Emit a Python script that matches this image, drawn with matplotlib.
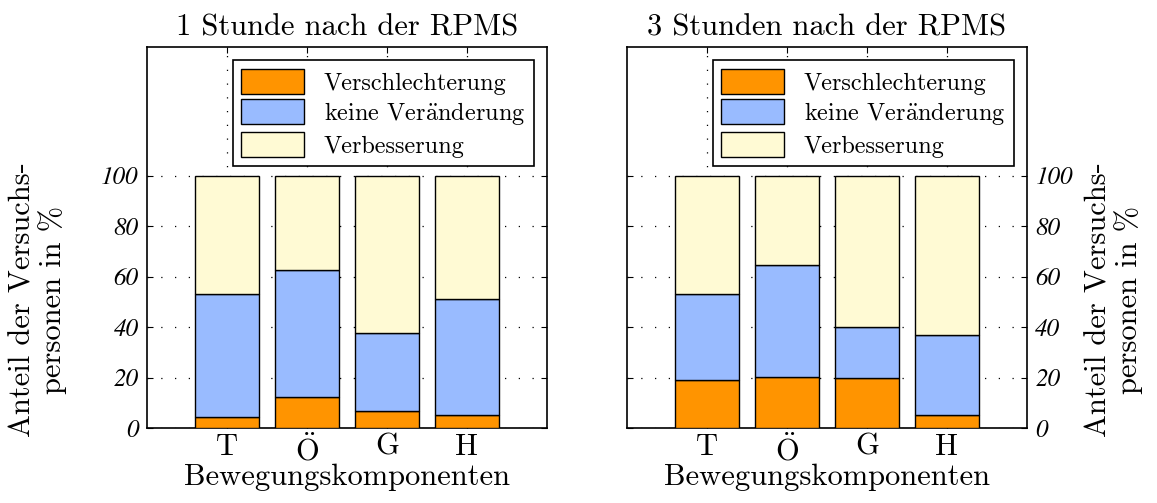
import matplotlib
matplotlib.use("Agg")
import matplotlib.pyplot as plt
import numpy as np

plt.rcParams['font.family'] = ['cmr10', 'DejaVu Serif']
plt.rcParams['mathtext.fontset'] = 'cm'
plt.rcParams['axes.formatter.use_mathtext'] = True
plt.rcParams['axes.unicode_minus'] = False

kategorien = ['T', r'$\ddot{\mathrm{O}}$', 'G', 'H']
titel = ['1 Stunde nach der RPMS', '3 Stunden nach der RPMS']
# Anteile in % (Verschlechterung, keine Veraenderung, Verbesserung)
schlechter_1h = [4.4, 12.3, 6.7, 5.2]
gleich_1h = [48.8, 50.4, 31.0, 46.0]
besser_1h = [46.8, 37.3, 62.3, 48.8]
schlechter_3h = [19.0, 20.2, 19.8, 5.2]
gleich_3h = [34.2, 44.5, 20.3, 31.7]
besser_3h = [46.8, 35.3, 59.9, 63.1]

farben = ['#ff9400', '#99bbff', '#fffad4']
legende = ['Verschlechterung', r'keine Ver$\ddot{\mathrm{a}}$nderung', 'Verbesserung']
yticks = [0, 20, 40, 60, 80, 100]
ylabel = 'Anteil der Versuchs-\npersonen in %'

fig = plt.figure(figsize=(11.57, 5.03), dpi=100)
ax1 = fig.add_axes([147/1157, 75/503, 400/1157, 381/503])
ax2 = fig.add_axes([627/1157, 75/503, 400/1157, 381/503])

daten = [(schlechter_1h, gleich_1h, besser_1h), (schlechter_3h, gleich_3h, besser_3h)]
x = np.arange(1, 5)
for i, (ax, d) in enumerate(zip([ax1, ax2], daten)):
    unten = np.zeros(4)
    for werte, f, lab in zip(d, farben, legende):
        ax.bar(x, werte, 0.8, bottom=unten, color=f, edgecolor='black',
               linewidth=1.0, label=lab, zorder=3)
        unten = unten + np.array(werte)
    ax.set_xlim(0, 5)
    ax.set_ylim(0, 151)
    ax.set_xticks(x)
    ax.set_xticklabels(kategorien, fontsize=22)
    ax.set_yticks(yticks)
    ax.set_yticklabels([str(v) for v in yticks], fontsize=18,
                       family='STIXGeneral', style='italic')
    ax.grid(True, color='black', linestyle=(0, (1, 10)), linewidth=0.9, zorder=0)
    ax.tick_params(direction='in', top=True, right=True, left=True, length=4,
                   width=0.8, pad=6)
    ax.tick_params(axis='x', pad=4)
    ax.set_title(titel[i], fontsize=22, pad=8)
    ax.set_xlabel('Bewegungskomponenten', fontsize=22, labelpad=-2)
    for s in ax.spines.values():
        s.set_linewidth(1.2)
    leg = ax.legend(loc='upper right', fontsize=17.5, fancybox=False,
                    edgecolor='black', framealpha=1, borderpad=0.35,
                    handlelength=2.6, handleheight=1.2, labelspacing=0.2,
                    handletextpad=0.8, borderaxespad=0.55)
    leg.get_frame().set_linewidth(1.2)
    leg.set_zorder(5)

ax1.set_ylabel(ylabel, fontsize=22, linespacing=1.05)
ax1.yaxis.set_label_coords(-0.2, 0.336)

ax2.yaxis.tick_right()
ax2.tick_params(left=True, right=True, labelleft=False, labelright=True)
ax2.yaxis.set_label_position('right')
ax2.set_ylabel(ylabel, fontsize=22, linespacing=1.05, rotation=90)
ax2.yaxis.set_label_coords(1.145, 0.336)

fig.savefig('out.png', dpi=100)
